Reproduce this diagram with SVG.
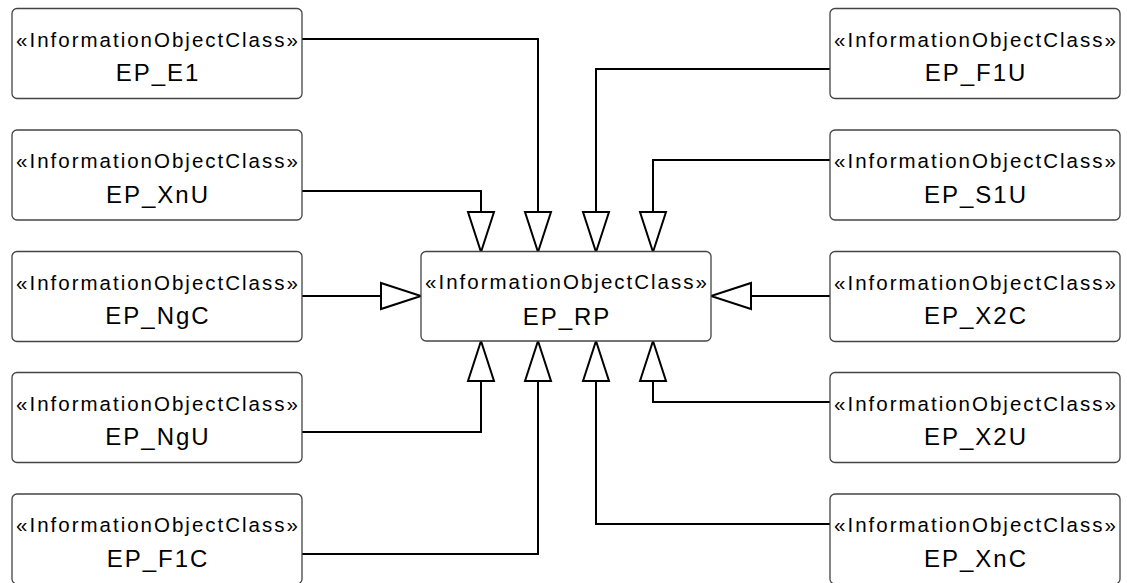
<svg xmlns="http://www.w3.org/2000/svg" width="1127" height="583" viewBox="0 0 1127 583">
<style>
.box{fill:#fff;stroke:#444;stroke-width:1.3}
.st{font-family:"Liberation Sans",Arial,sans-serif;font-size:20.5px;letter-spacing:2px;text-anchor:middle;fill:#000}
.nm{font-family:"Liberation Sans",Arial,sans-serif;font-size:24px;letter-spacing:2px;text-anchor:middle;fill:#000}
.ln{fill:none;stroke:#000;stroke-width:2;marker-end:url(#gen)}
</style>
<defs>
<marker id="gen" markerUnits="userSpaceOnUse" viewBox="0 0 41 28" refX="41" refY="14" markerWidth="41" markerHeight="28" orient="auto" overflow="visible">
<path d="M1,1 L41,14 L1,27 Z" fill="#fff" stroke="#000" stroke-width="2" stroke-linejoin="miter"/>
</marker>
</defs>
<rect width="1127" height="583" fill="#fff"/>
<g id="connectors">
<path class="ln" d="M302,39 H538 V252"/>
<path class="ln" d="M302,191 H481 V252"/>
<path class="ln" d="M302,296 H421"/>
<path class="ln" d="M302,432 H481 V341"/>
<path class="ln" d="M302,554 H538 V341"/>
<path class="ln" d="M830,69 H596 V252"/>
<path class="ln" d="M830,160 H653 V252"/>
<path class="ln" d="M830,296 H711"/>
<path class="ln" d="M830,402 H653 V341"/>
<path class="ln" d="M830,524 H596 V341"/>
</g>
<g id="EP_RP"><rect class="box" x="421" y="251.5" width="290" height="89.5" rx="5"/><text class="st" x="567" y="289">«InformationObjectClass»</text><text class="nm" x="567" y="324.5">EP_RP</text></g>
<g id="EP_E1"><rect class="box" x="12" y="8.5" width="290" height="90" rx="5"/><text class="st" x="158" y="46.5">«InformationObjectClass»</text><text class="nm" x="158" y="81">EP_E1</text></g>
<g id="EP_XnU"><rect class="box" x="12" y="130" width="290" height="90" rx="5"/><text class="st" x="158" y="168">«InformationObjectClass»</text><text class="nm" x="158" y="202.5">EP_XnU</text></g>
<g id="EP_NgC"><rect class="box" x="12" y="251.5" width="290" height="90" rx="5"/><text class="st" x="158" y="289.5">«InformationObjectClass»</text><text class="nm" x="158" y="324">EP_NgC</text></g>
<g id="EP_NgU"><rect class="box" x="12" y="372.5" width="290" height="90" rx="5"/><text class="st" x="158" y="410.5">«InformationObjectClass»</text><text class="nm" x="158" y="445">EP_NgU</text></g>
<g id="EP_F1C"><rect class="box" x="12" y="494" width="290" height="90" rx="5"/><text class="st" x="158" y="532">«InformationObjectClass»</text><text class="nm" x="158" y="566.5">EP_F1C</text></g>
<g id="EP_F1U"><rect class="box" x="830" y="8.5" width="290" height="90" rx="5"/><text class="st" x="976" y="46.5">«InformationObjectClass»</text><text class="nm" x="976" y="81">EP_F1U</text></g>
<g id="EP_S1U"><rect class="box" x="830" y="130" width="290" height="90" rx="5"/><text class="st" x="976" y="168">«InformationObjectClass»</text><text class="nm" x="976" y="202.5">EP_S1U</text></g>
<g id="EP_X2C"><rect class="box" x="830" y="251.5" width="290" height="90" rx="5"/><text class="st" x="976" y="289.5">«InformationObjectClass»</text><text class="nm" x="976" y="324">EP_X2C</text></g>
<g id="EP_X2U"><rect class="box" x="830" y="372.5" width="290" height="90" rx="5"/><text class="st" x="976" y="410.5">«InformationObjectClass»</text><text class="nm" x="976" y="445">EP_X2U</text></g>
<g id="EP_XnC"><rect class="box" x="830" y="494" width="290" height="90" rx="5"/><text class="st" x="976" y="532">«InformationObjectClass»</text><text class="nm" x="976" y="566.5">EP_XnC</text></g>
</svg>
